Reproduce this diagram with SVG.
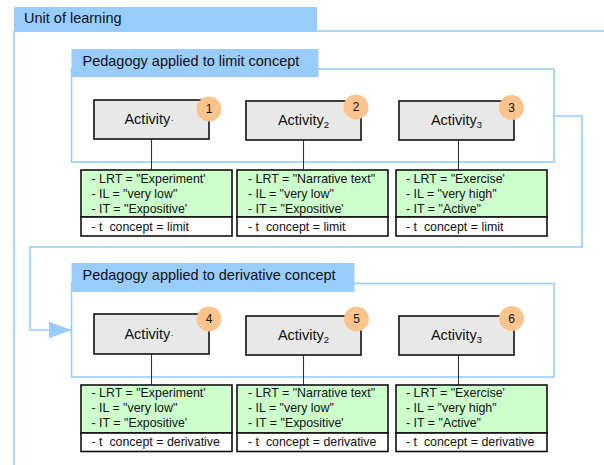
<svg xmlns="http://www.w3.org/2000/svg" width="604" height="465" viewBox="0 0 604 465">
<defs>
<style>
text{font-family:"Liberation Sans",Arial,sans-serif;fill:#111}
.frame{fill:#fff;stroke:#99ccff;stroke-width:1.6}
.hdr{fill:#99ccff;stroke:none}
.htxt{font-size:14.5px}
.act{fill:#e8e8e8;stroke:#111;stroke-width:1.6}
.atxt{font-size:14.5px;text-anchor:middle}
.sub{font-size:9.5px}
.badge{fill:#fbc48e}
.btxt{font-size:12px;text-anchor:middle}
.attr{fill:#ccffcc;stroke:#111;stroke-width:1.6}
.cpt{fill:#fff;stroke:#111;stroke-width:1.6}
.ltxt{font-size:12.4px;white-space:pre}
.link{stroke:#333;stroke-width:1.1;fill:none}
.flow{stroke:#99ccff;stroke-width:1.6;fill:none}
</style>
<marker id="arr" markerUnits="userSpaceOnUse" markerWidth="24" markerHeight="18" refX="23" refY="8.5" orient="auto">
<path d="M0,0 L23,8.5 L0,17 Z" fill="#99ccff"/>
</marker>
</defs>

<g id="unit">
<rect class="frame" x="14" y="31" width="700" height="600"/>
<rect class="hdr" x="14" y="7" width="303" height="25"/>
<text class="htxt" x="24" y="23">Unit of learning</text>
</g>

<g id="ped1">
<rect class="frame" x="71.5" y="69" width="482.5" height="93"/>
<rect class="hdr" x="71.5" y="49" width="247" height="28"/>
<text class="htxt" x="82.5" y="66">Pedagogy applied to limit concept</text>
</g>

<g id="ped2">
<rect class="frame" x="71.5" y="283.5" width="482.5" height="93.5"/>
<rect class="hdr" x="71.5" y="263" width="283" height="29"/>
<text class="htxt" x="82.5" y="280">Pedagogy applied to derivative concept</text>
</g>

<g id="connectors">
<path class="flow" d="M554,116 H582 V247 H30 V330 H71.5" marker-end="url(#arr)"/>
<line class="link" x1="151.5" y1="139" x2="151.5" y2="170"/>
<line class="link" x1="303.5" y1="140" x2="303.5" y2="170"/>
<line class="link" x1="458.5" y1="140" x2="458.5" y2="170"/>
<line class="link" x1="151.5" y1="354" x2="151.5" y2="385"/>
<line class="link" x1="303.5" y1="355" x2="303.5" y2="385"/>
<line class="link" x1="458.5" y1="355" x2="458.5" y2="385"/>
</g>

<g id="a1">
<rect class="act" x="94" y="100" width="115" height="39"/>
<text class="atxt" x="149" y="124">Activity<tspan class="sub" dy="-1">·</tspan></text>
<circle class="badge" cx="209" cy="109" r="12.5"/>
<text class="btxt" x="209" y="113">1</text>
</g>
<g id="a2">
<rect class="act" x="246" y="101" width="115" height="39"/>
<text class="atxt" x="303.5" y="125">Activity<tspan class="sub" dy="3">2</tspan></text>
<circle class="badge" cx="356" cy="107" r="12.5"/>
<text class="btxt" x="356" y="111">2</text>
</g>
<g id="a3">
<rect class="act" x="399" y="101" width="115" height="39"/>
<text class="atxt" x="456.5" y="125">Activity<tspan class="sub" dy="3">3</tspan></text>
<circle class="badge" cx="511.5" cy="107.5" r="12.5"/>
<text class="btxt" x="511.5" y="111.5">3</text>
</g>

<g id="p1">
<rect class="attr" x="81" y="170" width="151" height="47"/>
<rect class="cpt" x="81" y="217" width="151" height="19"/>
<text class="ltxt" x="91.5" y="183">- LRT = "Experiment'</text>
<text class="ltxt" x="91.5" y="198">- IL = "very low"</text>
<text class="ltxt" x="91.5" y="213">- IT = "Expositive'</text>
<text class="ltxt" x="91.5" y="231" xml:space="preserve">- t  concept = limit</text>
</g>
<g id="p2">
<rect class="attr" x="237" y="170" width="151" height="47"/>
<rect class="cpt" x="237" y="217" width="151" height="19"/>
<text class="ltxt" x="248" y="183">- LRT = "Narrative text"</text>
<text class="ltxt" x="248" y="198">- IL = "very low"</text>
<text class="ltxt" x="248" y="213">- IT = "Expositive'</text>
<text class="ltxt" x="248" y="231" xml:space="preserve">- t  concept = limit</text>
</g>
<g id="p3">
<rect class="attr" x="396" y="170" width="151" height="47"/>
<rect class="cpt" x="396" y="217" width="151" height="19"/>
<text class="ltxt" x="406" y="183">- LRT = "Exercise'</text>
<text class="ltxt" x="406" y="198">- IL = "very high"</text>
<text class="ltxt" x="406" y="213">- IT = "Active"</text>
<text class="ltxt" x="406" y="231" xml:space="preserve">- t  concept = limit</text>
</g>

<g id="a4">
<rect class="act" x="94" y="314" width="115" height="40"/>
<text class="atxt" x="149" y="339">Activity<tspan class="sub" dy="-1">·</tspan></text>
<circle class="badge" cx="209" cy="319" r="12.5"/>
<text class="btxt" x="209" y="323">4</text>
</g>
<g id="a5">
<rect class="act" x="246" y="316" width="115" height="39"/>
<text class="atxt" x="303.5" y="340">Activity<tspan class="sub" dy="3">2</tspan></text>
<circle class="badge" cx="356.5" cy="319" r="12.5"/>
<text class="btxt" x="356.5" y="323">5</text>
</g>
<g id="a6">
<rect class="act" x="399" y="316" width="115" height="39"/>
<text class="atxt" x="456.5" y="340">Activity<tspan class="sub" dy="3">3</tspan></text>
<circle class="badge" cx="511.5" cy="318.5" r="12.5"/>
<text class="btxt" x="511.5" y="322.5">6</text>
</g>

<g id="p4">
<rect class="attr" x="81" y="385" width="151" height="48"/>
<rect class="cpt" x="81" y="433" width="151" height="18.5"/>
<text class="ltxt" x="91.5" y="397">- LRT = "Experiment'</text>
<text class="ltxt" x="91.5" y="412">- IL = "very low"</text>
<text class="ltxt" x="91.5" y="427">- IT = "Expositive'</text>
<text class="ltxt" x="91.5" y="446" xml:space="preserve">- t  concept = derivative</text>
</g>
<g id="p5">
<rect class="attr" x="237" y="385" width="151" height="48"/>
<rect class="cpt" x="237" y="433" width="151" height="18.5"/>
<text class="ltxt" x="248" y="397">- LRT = "Narrative text"</text>
<text class="ltxt" x="248" y="412">- IL = "very low"</text>
<text class="ltxt" x="248" y="427">- IT = "Expositive'</text>
<text class="ltxt" x="248" y="446" xml:space="preserve">- t  concept = derivative</text>
</g>
<g id="p6">
<rect class="attr" x="396" y="385" width="151" height="48"/>
<rect class="cpt" x="396" y="433" width="151" height="18.5"/>
<text class="ltxt" x="406" y="397">- LRT = "Exercise'</text>
<text class="ltxt" x="406" y="412">- IL = "very high"</text>
<text class="ltxt" x="406" y="427">- IT = "Active"</text>
<text class="ltxt" x="406" y="446" xml:space="preserve">- t  concept = derivative</text>
</g>
</svg>
